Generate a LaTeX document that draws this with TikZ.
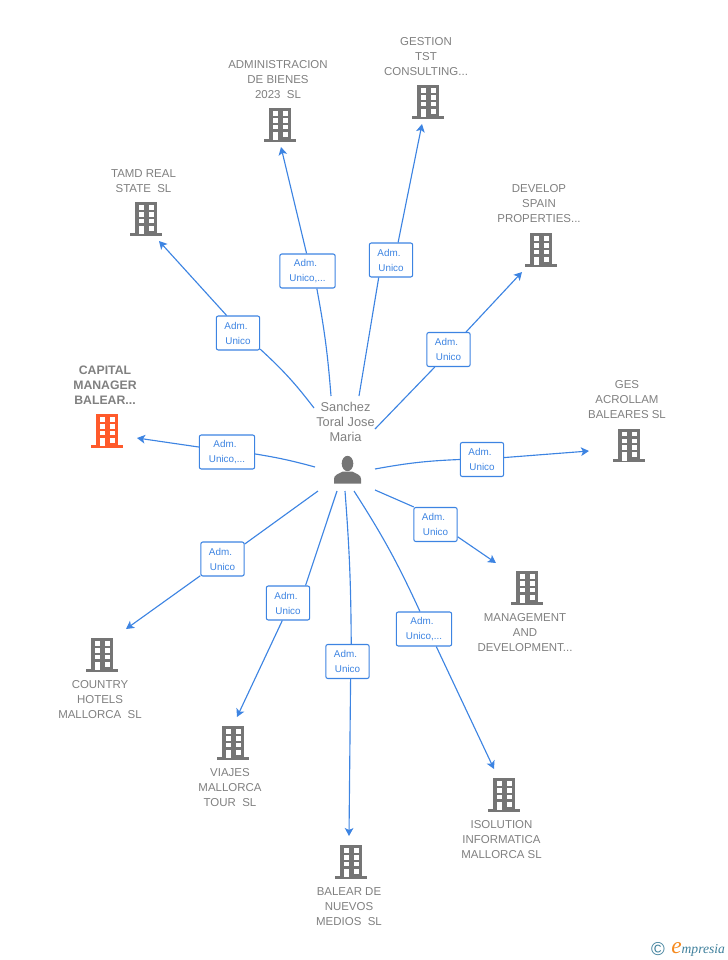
\documentclass[tikz,border=0pt]{standalone}
\usepackage{fontspec}
\setmainfont{Liberation Sans}
\newfontfamily\logofont{Liberation Serif}
\usetikzlibrary{arrows.meta}
\definecolor{linkc}{HTML}{3D84E2}
\definecolor{greyc}{HTML}{808080}
\definecolor{iconc}{HTML}{757575}
\definecolor{mainc}{HTML}{FF5A2B}
\definecolor{logoc}{HTML}{3E7F9B}
\definecolor{logoe}{HTML}{F58A1F}
\tikzset{
  firm/.style={text=greyc, align=center, inner sep=0pt, font=\fontsize{8.6}{11.25}\selectfont},
  mainfirm/.style={firm, font=\fontsize{9.2}{11.25}\selectfont\bfseries},
  who/.style={text=greyc, align=center, inner sep=0pt, font=\fontsize{9.6}{11.25}\selectfont},
  role/.style={draw=linkc, fill=white, rounded corners=1.5pt, line width=.8pt, text=linkc, align=center, inner sep=0pt, minimum height=25.5pt, font=\fontsize{7.4}{11.25}\selectfont},
  link/.style={linkc, line width=.85pt},
  pics/bldg/.style={code={
    \fill[#1] (-11.4,-16.8) rectangle (11.4,14.5);
    \fill[#1] (-16,13.5) rectangle (16,16.8);
    \foreach \wy in {-13.7,-6.9,-.1}
      \foreach \wx in {-7.5,2.5}
        \fill[white] (\wx,\wy) rectangle ++(5,4.4);
    \fill[white] (2.5,6.7) rectangle ++(5,5);
    \fill[white] (-7.5,6.7) rectangle ++(5,8.3);
  }}
}
\begin{document}
\begin{tikzpicture}[x=.75pt,y=-.75pt]
\useasboundingbox (0,0) rectangle (728,960);

\node[who] (boss) at (345.5,421.5) {Sanchez\\Toral Jose\\Maria};
\fill[iconc] (347.5,463.5) ellipse (5.8 and 7.7);
\fill[iconc] (334,483.5) -- (334,479) .. controls (334,475) and (338,474) .. (343,471.5) -- (352,471.5) .. controls (357,474) and (361,475) .. (361,479) -- (361,483.5) -- cycle;

\foreach \i/\x/\y/\c in {1/146/219/iconc, 2/280/125/iconc, 3/428/102/iconc, 4/541/250/iconc, 5/629/445.5/iconc, 6/527/588/iconc, 7/504/795/iconc, 8/351/862/iconc, 9/233/743/iconc, 10/102/655/iconc, 11/107/431/mainc}
\pic (icon\i) at (\x,\y) {bldg=\c};

\node[firm] (firm1) at (143.5,181) {TAMD REAL\\STATE\ \ SL};
\node[firm] (firm2) at (278,80) {ADMINISTRACION\\DE BIENES\\2023\ \ SL};
\node[firm] (firm3) at (426,57) {GESTION\\TST\\CONSULTING...};
\node[firm] (firm4) at (539,204) {DEVELOP\\SPAIN\\PROPERTIES...};
\node[firm] (firm5) at (627,400) {GES\\ACROLLAM\\BALEARES SL};
\node[firm] (firm6) at (525,633) {MANAGEMENT\\AND\\DEVELOPMENT...};
\node[firm] (firm7) at (501.5,840) {ISOLUTION\\INFORMATICA\\MALLORCA SL};
\node[firm] (firm8) at (349,907) {BALEAR DE\\NUEVOS\\MEDIOS\ \ SL};
\node[firm] (firm9) at (230,788) {VIAJES\\MALLORCA\\TOUR\ \ SL};
\node[firm] (firm10) at (100,700) {COUNTRY\\HOTELS\\MALLORCA\ \ SL};
\node[mainfirm] (firm11) at (105,385.5) {CAPITAL\\MANAGER\\BALEAR...};

\foreach \i/\x/\y in {1/238/333, 3/391/260, 4/448.5/349.5, 5/482/459.5, 6/435.5/524.5, 8/347.5/661.5, 9/288/603, 10/222.5/559}
\node[role, minimum width=32.5pt] (role\i) at (\x,\y) {Adm.\hspace*{3pt}\\Unico};
\foreach \i/\x/\y in {2/307.5/271, 7/424/629, 11/227/452}
\node[role, minimum width=41.5pt] (role\i) at (\x,\y) {Adm.\hspace*{3pt}\\Unico,...};

\foreach \i/\x/\y in {1/314/408, 2/331/396, 3/359/396, 4/375/429, 5/375/469, 6/375/490, 7/354/491, 8/345/491, 9/337/491, 10/318/491, 11/315/467}
\coordinate (from\i) at (\x,\y);
\foreach \i/\x/\y in {1/159/241, 2/281/147, 3/422/124, 4/522/272, 5/589/451, 6/496/563, 7/494/769, 8/349/836, 9/237/717, 10/126/629, 11/137/438}
\coordinate (to\i) at (\x,\y);

\foreach \i/\ai/\ao/\b in {1/-36/123/-5, 2/-62/93/-3, 3/-125/68/0, 4/-128/45/0, 5/180/5/4, 6/141/-29/0, 7/103/-55/4, 8/78/-80/2, 9/45/-108/0, 10/34/217/0, 11/-4/170/-3}
{
\draw[link] (from\i) to[bend left=\b] (role\i.\ai);
\draw[link, -{Stealth[length=6pt,width=6.5pt,inset=1.5pt]}] (role\i.\ao) -- (to\i);
}

\node[text=logoc, inner sep=0pt, font=\fontsize{14}{14}\selectfont] (copyr) at (658,949) {©};
\node[anchor=base west, inner sep=0pt, text=logoc, font=\logofont\itshape\fontsize{10.2}{12}\selectfont] (brand) at (671,953) {\textcolor{logoe}{\fontsize{17.5}{17.5}\selectfont e}mpresia};

\end{tikzpicture}
\end{document}
